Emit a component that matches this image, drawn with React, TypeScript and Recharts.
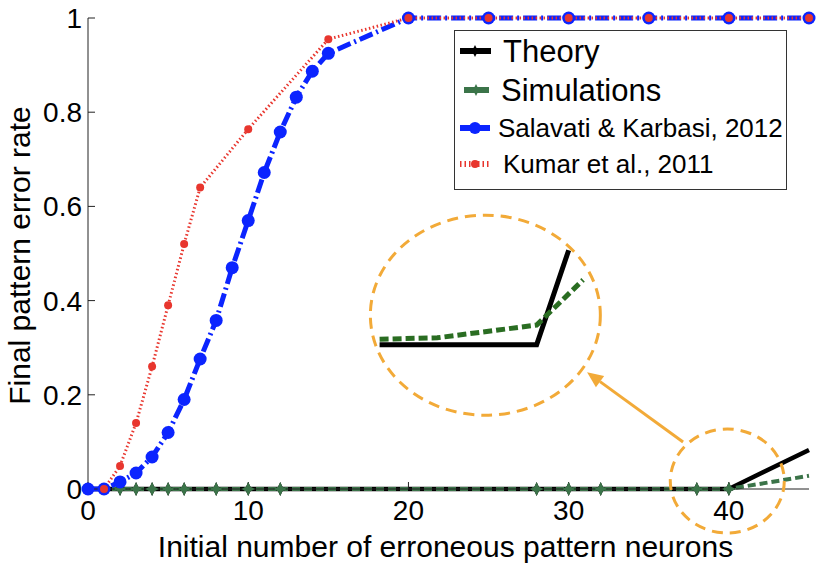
import React from 'react';
import { LineChart, Line, XAxis, YAxis, Legend, ReferenceDot, ReferenceLine, Label } from 'recharts';

// error counts where Theory / Simulations were evaluated
const errX = [0, 2, 3, 4, 5, 6, 8, 10, 12, 28, 30, 32, 38, 40, 45];
const theoryY = [0, 0, 0, 0, 0, 0, 0, 0, 0, 0, 0, 0, 0, 0, 0.083];
const simY = [0, 0, 0, 0, 0, 0, 0, 0, 0, 0, 0, 0, 0, 0, 0.028];

const salavatiX = [0, 1, 2, 3, 4, 5, 6, 7, 8, 9, 10, 11, 12, 13, 14, 15, 20, 25, 30, 35, 40, 45];
const salavatiY = [0, 0, 0.015, 0.034, 0.068, 0.12, 0.19, 0.276, 0.358, 0.47, 0.57, 0.672, 0.758, 0.832, 0.887, 0.925, 1, 1, 1, 1, 1, 1];

const kumarX = [1, 2, 3, 4, 5, 6, 7, 10, 15, 20, 25, 30, 35, 40, 45];
const kumarY = [0, 0.049, 0.14, 0.26, 0.39, 0.52, 0.64, 0.764, 0.955, 1, 1, 1, 1, 1, 1];

// magnified view of the region around 40 errors
const insetTheoryX = [18.2, 28.0, 30.0];
const insetTheoryY = [0.306, 0.306, 0.507];
const insetSimX = [18.2, 21.8, 28.0, 30.9];
const insetSimY = [0.318, 0.321, 0.348, 0.444];

const xTicks = [0, 10, 20, 30, 40];
const yTicks = [0, 0.2, 0.4, 0.6, 0.8, 1];

const toPoints = (xs: number[], ys: number[]) => xs.map((x, i) => ({ x, y: ys[i] }));

const BLUE = '#0b24ff';
const RED = '#e8362e';
const GREEN = '#3b7449';
const INSET_GREEN = '#2a6d22';
const ORANGE = '#f2aa38';
const FONT = '"Liberation Sans", Arial, sans-serif';

const starDot = (color: string, last: number) => (p: any) => {
  const { cx, cy, index } = p;
  if (index === 0 || index === last || cx == null) return <g key={`s-${index}`} />;
  const r = 7;
  const k = 2.2;
  const d = `M${cx},${cy - r} L${cx + k},${cy - k} L${cx + r},${cy} L${cx + k},${cy + k} L${cx},${cy + r} L${cx - k},${cy + k} L${cx - r},${cy} L${cx - k},${cy - k} Z`;
  return <path key={`s-${index}`} d={d} fill={color} />;
};

const Arrow = (p: any) => {
  const { x1, y1, x2, y2 } = p;
  const dx = x2 - x1;
  const dy = y2 - y1;
  const len = Math.sqrt(dx * dx + dy * dy);
  const ux = dx / len;
  const uy = dy / len;
  const hl = 16;
  const hw = 7;
  const bx = x2 - ux * hl;
  const by = y2 - uy * hl;
  return (
    <g>
      <line x1={x1} y1={y1} x2={bx} y2={by} stroke={ORANGE} strokeWidth={3} />
      <polygon
        points={`${x2},${y2} ${bx - uy * hw},${by + ux * hw} ${bx + uy * hw},${by - ux * hw}`}
        fill={ORANGE}
      />
    </g>
  );
};

const swatches: Record<string, { left: number; textLeft: number; top: number; size: number; draw: React.ReactNode }> = {
  Theory: {
    left: 4, textLeft: 48, top: 20, size: 31,
    draw: (
      <g>
        <line x1={1} y1={10} x2={32} y2={10} stroke="#000" strokeWidth={6} />
        <path d="M16,4 L18,8 L22,10 L18,12 L16,16 L14,12 L10,10 L14,8 Z" fill="#000" />
      </g>
    ),
  },
  Simulations: {
    left: 4, textLeft: 46, top: 59, size: 31,
    draw: (
      <g>
        <line x1={5} y1={10} x2={30} y2={10} stroke={GREEN} strokeWidth={6} />
        <path d="M17,4 L19,8 L23,10 L19,12 L17,16 L15,12 L11,10 L15,8 Z" fill={GREEN} />
      </g>
    ),
  },
  'Salavati & Karbasi, 2012': {
    left: 4, textLeft: 43, top: 97, size: 26,
    draw: (
      <g>
        <line x1={1} y1={10} x2={31} y2={10} stroke={BLUE} strokeWidth={6} />
        <circle cx={16} cy={10} r={6} fill={BLUE} />
      </g>
    ),
  },
  'Kumar et al., 2011': {
    left: 4, textLeft: 48, top: 133, size: 26,
    draw: (
      <g>
        <line x1={1} y1={10} x2={32} y2={10} stroke={RED} strokeWidth={6} strokeDasharray="1.5 3" />
        <circle cx={16} cy={10} r={4} fill={RED} />
      </g>
    ),
  },
};

const LegendBox = (props: any) => {
  const payload = (props.payload || []).filter((e: any) => swatches[e.value]);
  return (
    <div
      style={{
        width: 333,
        height: 160,
        boxSizing: 'border-box',
        border: '1.5px solid #333',
        background: '#fff',
        position: 'relative',
        fontFamily: FONT,
        color: '#000',
      }}
    >
      {payload.map((entry: any) => {
        const s = swatches[entry.value];
        return (
          <div key={entry.value}>
            <svg
              width={34}
              height={20}
              style={{ position: 'absolute', left: s.left, top: s.top - 10 }}
            >
              {s.draw}
            </svg>
            <span
              style={{
                position: 'absolute',
                left: s.textLeft,
                top: s.top,
                transform: 'translateY(-50%)',
                fontSize: s.size,
                lineHeight: 1,
                whiteSpace: 'nowrap',
              }}
            >
              {entry.value}
            </span>
          </div>
        );
      })}
    </div>
  );
};

const tickStyle = { fontSize: 28, fill: '#000', fontFamily: FONT };

export default function App() {
  return (
    <div style={{ position: 'absolute', left: 0, top: 0, background: '#fff' }}>
      <LineChart
        width={817}
        height={563}
        margin={{ top: 18, right: 8, left: 0, bottom: 0 }}
        style={{ fontFamily: FONT }}
      >
        <XAxis
          dataKey="x"
          type="number"
          domain={[0, 45]}
          ticks={xTicks}
          height={74}
          stroke="#222"
          tick={tickStyle}
          tickSize={-7}
          tickMargin={18}
          interval={0}
        >
          <Label
            content={(p: any) => {
              const vb = p.viewBox || { x: 88, y: 489, width: 721 };
              return (
                <text
                  x={vb.x + vb.width / 2 - 3}
                  y={vb.y + 68}
                  textAnchor="middle"
                  fontSize={30}
                  fontFamily={FONT}
                  fill="#000"
                >
                  Initial number of erroneous pattern neurons
                </text>
              );
            }}
          />
        </XAxis>
        <XAxis
          xAxisId="top"
          orientation="top"
          dataKey="x"
          type="number"
          domain={[0, 45]}
          ticks={xTicks}
          allowDataOverflow
          height={0}
          stroke="#222"
          tick={false}
          tickSize={-7}
        />
        <YAxis
          type="number"
          domain={[0, 1]}
          ticks={yTicks}
          width={88}
          stroke="#222"
          tick={tickStyle}
          tickSize={-7}
          tickMargin={13}
          interval={0}
        >
          <Label
            content={(p: any) => {
              const vb = p.viewBox || { x: 0, y: 18, height: 471 };
              const cx = vb.x + 30;
              const cy = vb.y + vb.height / 2 + 2;
              return (
                <text
                  x={cx}
                  y={cy}
                  transform={`rotate(-90, ${cx}, ${cy})`}
                  textAnchor="middle"
                  fontSize={30}
                  fontFamily={FONT}
                  fill="#000"
                >
                  Final pattern error rate
                </text>
              );
            }}
          />
        </YAxis>
        <YAxis
          yAxisId="right"
          orientation="right"
          type="number"
          domain={[0, 1]}
          ticks={yTicks}
          allowDataOverflow
          width={0}
          stroke="#222"
          tick={false}
          tickSize={-7}
        />

        <Line
          data={toPoints(errX, theoryY)}
          dataKey="y"
          name="Theory"
          type="linear"
          stroke="#000"
          strokeWidth={4.5}
          dot={starDot('#000', errX.length - 1)}
          activeDot={false}
          isAnimationActive={false}
        />
        <Line
          data={toPoints(errX, simY)}
          dataKey="y"
          name="Simulations"
          type="linear"
          stroke={GREEN}
          strokeWidth={4}
          strokeDasharray="8 4"
          dot={starDot(GREEN, errX.length - 1)}
          activeDot={false}
          isAnimationActive={false}
        />
        <Line
          data={toPoints(salavatiX, salavatiY)}
          dataKey="y"
          name="Salavati & Karbasi, 2012"
          type="linear"
          stroke={BLUE}
          strokeWidth={5}
          strokeDasharray="14 4 2 4"
          dot={{ r: 6.5, fill: BLUE, stroke: 'none' }}
          activeDot={false}
          isAnimationActive={false}
        />
        <Line
          data={toPoints(kumarX, kumarY)}
          dataKey="y"
          name="Kumar et al., 2011"
          type="linear"
          stroke={RED}
          strokeWidth={3}
          strokeDasharray="1.5 2.5"
          dot={{ r: 4, fill: RED, stroke: 'none' }}
          activeDot={false}
          isAnimationActive={false}
        />

        {/* magnified inset */}
        <Line
          data={toPoints(insetTheoryX, insetTheoryY)}
          dataKey="y"
          name="inset-theory"
          legendType="none"
          type="linear"
          stroke="#000"
          strokeWidth={5}
          dot={false}
          activeDot={false}
          isAnimationActive={false}
        />
        <Line
          data={toPoints(insetSimX, insetSimY)}
          dataKey="y"
          name="inset-sim"
          legendType="none"
          type="linear"
          stroke={INSET_GREEN}
          strokeWidth={5}
          strokeDasharray="9 4"
          dot={false}
          activeDot={false}
          isAnimationActive={false}
        />
        <ReferenceDot
          x={24.8}
          y={0.369}
          r={1}
          ifOverflow="visible"
          shape={(p: any) => (
            <ellipse cx={p.cx} cy={p.cy} rx={115} ry={100} fill="none" stroke={ORANGE} strokeWidth={3} strokeDasharray="11 7" />
          )}
        />
        <ReferenceDot
          x={39.9}
          y={0.017}
          r={1}
          ifOverflow="visible"
          shape={(p: any) => (
            <ellipse cx={p.cx} cy={p.cy} rx={57} ry={52} fill="none" stroke={ORANGE} strokeWidth={3} strokeDasharray="11 7" />
          )}
        />
        <ReferenceLine
          segment={[{ x: 37.14, y: 0.0998 }, { x: 31.15, y: 0.248 }]}
          ifOverflow="visible"
          shape={Arrow}
        />

        <Legend
          layout="horizontal"
          verticalAlign="middle"
          align="center"
          content={LegendBox}
          wrapperStyle={{ left: 454, top: 30, width: 333, height: 160 }}
        />
      </LineChart>
    </div>
  );
}
